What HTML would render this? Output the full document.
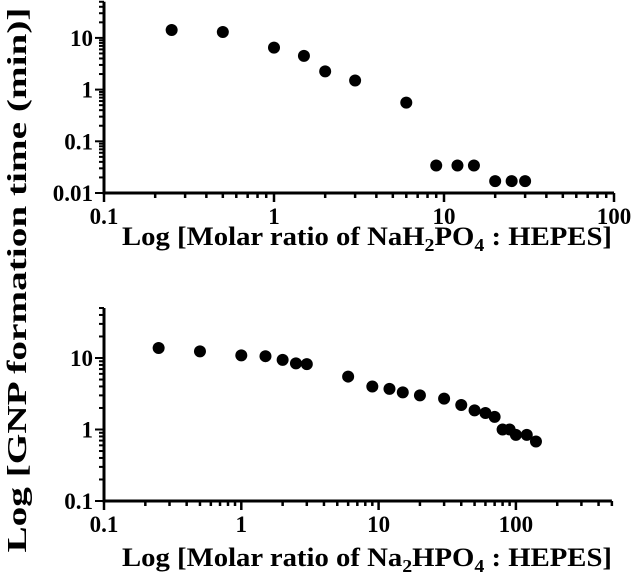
<!DOCTYPE html>
<html><head><meta charset="utf-8"><style>
body{margin:0;background:#fff;width:632px;height:579px;overflow:hidden}
svg text{font-family:"Liberation Serif",serif;font-weight:bold;fill:#000}
</style></head><body>
<svg id="c" width="632" height="579" xmlns="http://www.w3.org/2000/svg">
<text transform="translate(26,280) rotate(-90)" text-anchor="middle" font-size="27" textLength="545" lengthAdjust="spacingAndGlyphs">Log [GNP formation time (min)]</text>
<text x="367" y="245" text-anchor="middle" font-size="26" textLength="490" lengthAdjust="spacingAndGlyphs">Log [Molar ratio of NaH<tspan font-size="18" dy="6">2</tspan><tspan dy="-6">PO</tspan><tspan font-size="18" dy="6">4</tspan><tspan dy="-6"> : HEPES]</tspan></text>
<text x="367" y="566" text-anchor="middle" font-size="26" textLength="490" lengthAdjust="spacingAndGlyphs">Log [Molar ratio of Na<tspan font-size="18" dy="6">2</tspan><tspan dy="-6">HPO</tspan><tspan font-size="18" dy="6">4</tspan><tspan dy="-6"> : HEPES]</tspan></text>
</svg>
<script>
const topX=[0.25,0.5,1,1.5,2,3,6,9,12,15,20,25,30];
const topY=[14.2,13,6.5,4.5,2.25,1.5,0.56,0.034,0.034,0.034,0.017,0.017,0.017];
const topXTicks=["0.1","1","10","100"];
const topYTicks=["0.01","0.1","1","10"];
const botX=[0.25,0.5,1,1.5,2,2.5,3,6,9,12,15,20,30,40,50,60,70,80,90,100,120,140];
const botY=[13.8,12.4,10.9,10.6,9.4,8.4,8.2,5.5,4.0,3.7,3.3,3.0,2.7,2.2,1.85,1.7,1.5,1.0,1.0,0.84,0.84,0.68];
const botXTicks=["0.1","1","10","100"];
const botYTicks=["0.1","1","10"];
const NS="http://www.w3.org/2000/svg";
const svg=document.getElementById('c');
function mk(t,a){const e=document.createElementNS(NS,t);for(const k in a)e.setAttribute(k,a[k]);svg.appendChild(e);return e;}
function panel(p,xs,ys,xt,yt,pre){
 const sx=v=>p.x0+(Math.log10(v)-Math.log10(p.xmin))*p.xdec;
 const sy=v=>p.y0-(Math.log10(v)-Math.log10(p.ymin))*p.ydec;
 const x1=sx(p.xmax), y1=sy(p.ymax);
 let l=mk('line',{x1:p.x0,y1:p.y0,x2:x1,y2:p.y0,stroke:'#000','stroke-width':3});
 
 
 l=mk('line',{x1:p.x0,y1:p.y0+1.5,x2:p.x0,y2:y1,stroke:'#000','stroke-width':3});
 
 
 for(let d=Math.round(Math.log10(p.xmin));d<Math.log10(p.xmax)+1e-9;d++){
  for(let m=1;m<10;m++){const v=Math.pow(10,d)*m;if(v>p.xmax*1.0001)break;
   const X=sx(v);const t=mk('line',{x1:X,y1:p.y0,x2:X,y2:p.y0+(m==1?9:5),stroke:'#000','stroke-width':2.5});
   
   }
 }
 for(let d=Math.round(Math.log10(p.ymin));d<Math.log10(p.ymax)+1e-9;d++){
  for(let m=1;m<10;m++){const v=Math.pow(10,d)*m;if(v>p.ymax*1.0001)break;
   const Y=sy(v);const t=mk('line',{x1:p.x0-(m==1?9:5),y1:Y,x2:p.x0,y2:Y,stroke:'#000','stroke-width':2});
   
   }
 }
 xt.forEach(s=>{const t=mk('text',{x:sx(parseFloat(s)),y:p.y0+31,'text-anchor':'middle','font-size':23});t.textContent=s;
  
  });
 yt.forEach(s=>{const t=mk('text',{x:p.x0-11,y:sy(parseFloat(s))+8,'text-anchor':'end','font-size':23});t.textContent=s;
  
  });
 xs.forEach((v,i)=>{const c=mk('circle',{cx:sx(v),cy:sy(ys[i]),r:6,fill:'#000'});
  
  });
}
panel({x0:104,y0:193,xdec:170,ydec:51.7,xmin:0.1,xmax:100,ymin:0.01,ymax:50},topX,topY,topXTicks,topYTicks,'top');
panel({x0:104,y0:501,xdec:137.3,ydec:71.5,xmin:0.1,xmax:500,ymin:0.1,ymax:50},botX,botY,botXTicks,botYTicks,'bottom');
</script>
</body></html>
